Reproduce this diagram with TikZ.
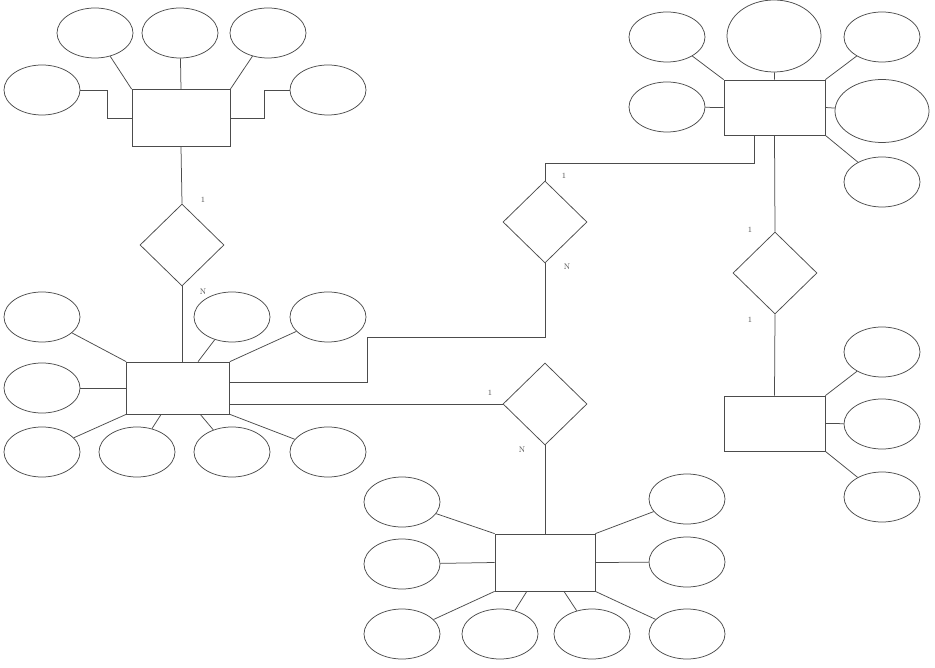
\documentclass[tikz,border=0pt]{standalone}
\usetikzlibrary{shapes.geometric}
\usepackage{xcolor}
\definecolor{ink}{gray}{0.3}

\begin{document}
\begin{tikzpicture}[x=1pt, y=-1pt, line width=0.75pt, color=ink,
        ent/.style={rectangle, draw, minimum width=101pt, minimum height=55pt},
        attr/.style={ellipse, draw, minimum width=76pt, minimum height=50pt},
        bigattr/.style={attr, minimum width=94pt, minimum height=66pt},
        rel/.style={diamond, draw, minimum width=84pt, minimum height=82pt, inner sep=0pt},
        card/.style={font=\footnotesize, inner sep=1pt}]
    \fill[white] (0,0) rectangle (935,668);
    \useasboundingbox (0,0) rectangle (935,668);

    % top left entity
    \node[ent, minimum width=98pt, minimum height=57pt] (A) at (181,118) {};
    \node[attr] (a1) at (95,33) {};
    \node[attr] (a2) at (180,33) {};
    \node[attr] (a3) at (268,33) {};
    \node[attr] (a4) at (42,90) {};
    \node[attr] (a5) at (328,90) {};
    \draw
        (a1) edge[] (A.north west)
        (a2) edge[] (A.north)
        (a3) edge[] (A.north east);
    \draw (a4.east) -- ++(27,0) |- (A.west);
    \draw (a5.west) -- ++(-25,0) |- (A.east);

    \node[rel] (r1) at (182,245) {};
    \node[card] (l1) at (203,200) {1};
    \node[card] (l2) at (203,292) {N};

    % middle left entity
    \node[ent, minimum width=103pt, minimum height=52pt] (B) at (178,388) {};
    \node[attr] (b1) at (42,317) {};
    \node[attr] (b2) at (232,317) {};
    \node[attr] (b3) at (328,317) {};
    \node[attr] (b4) at (42,388) {};
    \node[attr] (b5) at (42,452) {};
    \node[attr] (b6) at (137,452) {};
    \node[attr] (b7) at (232,452) {};
    \node[attr] (b8) at (328,452) {};
    \draw (A.south) -- (r1.north);
    \draw (r1.south) -- (r1.south |- B.north);
    \draw
        (b1) edge[] (B.north west)
        (b2) edge[] (B)
        (b3) edge[] (B.north east)
        (b4) edge[] (B.west)
        (b5) edge[] (B.south west)
        (b6) edge[] (B)
        (b7) edge[] (B)
        (b8) edge[] (B.south east);

    % top right entity
    \node[ent] (C) at (774.5,107.5) {};
    \node[attr] (c1) at (667,37) {};
    \node[bigattr, minimum height=72pt] (c2) at (774,36) {};
    \node[attr] (c3) at (882,37) {};
    \node[attr] (c4) at (667,107) {};
    \node[bigattr, minimum height=63pt] (c5) at (882,111) {};
    \node[attr] (c6) at (882,182) {};
    \draw
        (c1) edge[] (C.north west)
        (c2) edge[] (C.north)
        (c3) edge[] (C.north east)
        (c4) edge[] (C.west)
        (c5) edge[] (C.east)
        (c6) edge[] (C.south east);

    \node[rel] (r2) at (545,222) {};
    \node[card] (l3) at (564,176) {1};
    \node[card] (l4) at (567,267) {N};
    \coordinate (bend) at (367,337);
    \draw ([xshift=-20pt]C.south) -- ++(0,28) -| (r2.north);
    \draw (r2.south) |- (bend) |- ([yshift=6pt]B.east);

    \node[rel] (r3) at (775,273) {};
    \node[card] (l5) at (750,230) {1};
    \node[card] (l6) at (750,320) {1};

    % right entity
    \node[ent] (D) at (774.5,423.5) {};
    \node[attr] (d1) at (882,352) {};
    \node[attr] (d2) at (882,424) {};
    \node[attr] (d3) at (882,497) {};
    \draw (C.south) -- (r3.north);
    \draw (r3.south) -- (D.north);
    \draw
        (d1) edge[] (D.north east)
        (d2) edge[] (D.east)
        (d3) edge[] (D.south east);

    \node[rel] (r4) at (545,404) {};
    \node[card] (l7) at (490,393) {1};
    \node[card] (l8) at (522,450) {N};

    % bottom entity
    \node[ent, minimum width=100pt, minimum height=57pt] (E) at (545,562.5) {};
    \node[attr] (e1) at (402,502) {};
    \node[attr] (e2) at (402,564) {};
    \node[attr] (e3) at (402,634) {};
    \node[attr] (e4) at (500,634) {};
    \node[attr] (e5) at (592,634) {};
    \node[attr] (e6) at (687,499) {};
    \node[attr] (e7) at (687,562) {};
    \node[attr] (e8) at (687,634) {};
    \draw ([yshift=-16pt]B.east) -- (r4.west);
    \draw (r4.south) -- (E.north);
    \draw
        (e1) edge[] (E.north west)
        (e2) edge[] (E.west)
        (e3) edge[] (E.south west)
        (e4) edge[] (E)
        (e5) edge[] (E)
        (e6) edge[] (E.north east)
        (e7) edge[] (E.east)
        (e8) edge[] (E.south east);
\end{tikzpicture}
\end{document}
